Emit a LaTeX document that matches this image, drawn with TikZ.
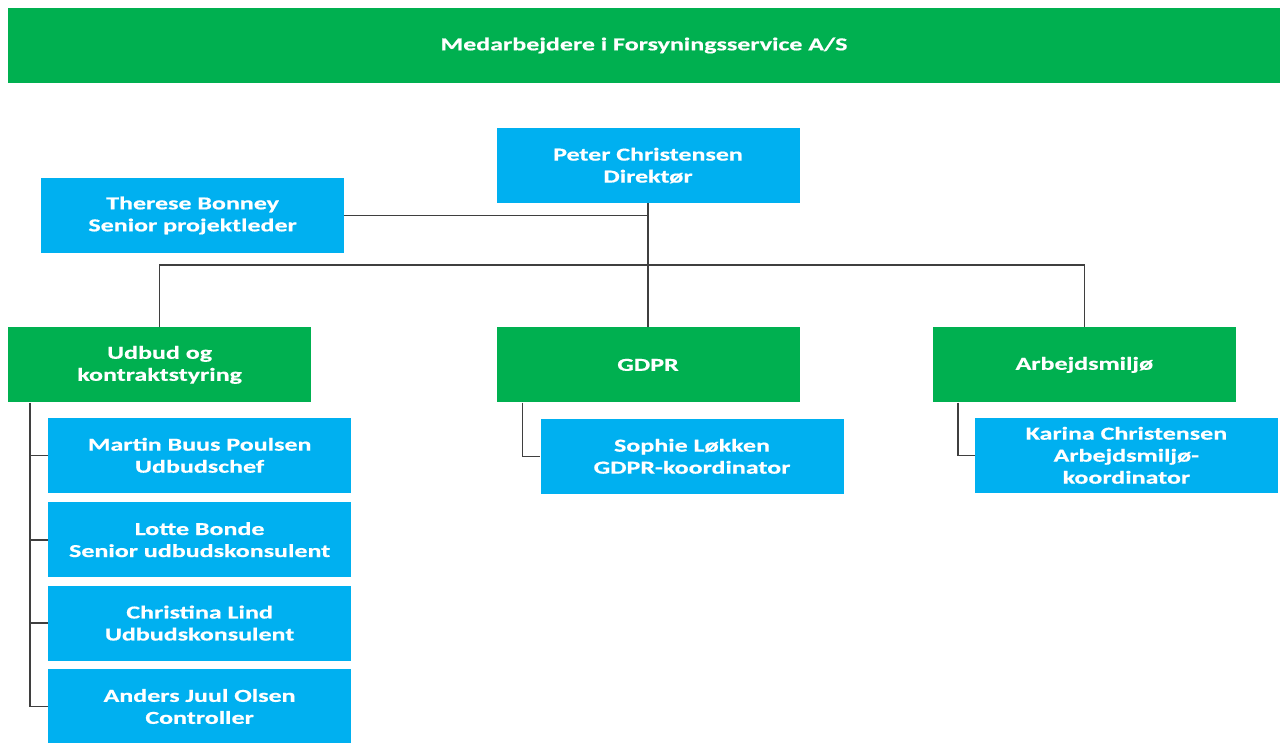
\documentclass[tikz,border=0pt]{standalone}
\usepackage{fontspec}
\usepackage{tikz}
\usetikzlibrary{positioning}
\newfontfamily\orgfont{Carlito}[FakeStretch=1.42,FakeBold=0.6]
\definecolor{orggreen}{HTML}{00B050}
\definecolor{orgblue}{HTML}{00B0F0}
\definecolor{orgline}{HTML}{3F3F3F}
\tikzset{
    unit/.style={
           rectangle,
           fill=orggreen,
           minimum width=303pt,
           minimum height=75pt,
           inner sep=4pt,
           text=white,
           align=center,
           font=\fontsize{18.3pt}{22pt}\selectfont\orgfont\bfseries,
           },
    person/.style={
           unit,
           fill=orgblue,
           },
    link/.style={
           draw=orgline,
           line width=1.6pt,
           },
}
\begin{document}
\begin{tikzpicture}[x=1pt,y=-1pt]
 \useasboundingbox[fill=white] (0,0) rectangle (1280,742);

 % banner across the top
 \node[unit, minimum width=1272pt] (TITLE) at (644,45.5)
  {Medarbejdere i Forsyningsservice A/S};

 % director and staff function
 \node[person] (PETER) at (648,165.5) {Peter Christensen\\Direktør};
 \node[person,
  left=152pt of PETER,	% to the left of the director
  yshift=-50pt] (THERESE)
  {Therese Bonney\\Senior projektleder};

 % the three units
 \node[unit, below=124pt of PETER] (GDPR) {GDPR};
 \node[unit, left=185pt of GDPR] (UDBUD) {Udbud og\\kontraktstyring};
 \node[unit, right=133pt of GDPR] (ARBMIL) {Arbejdsmiljø};

 % people in each unit
 \node[person, below right=15pt and 40pt of UDBUD.south west] (MARTIN)
  {Martin Buus Poulsen\\Udbudschef};
 \node[person, below=9pt of MARTIN] (LOTTE)
  {Lotte Bonde\\Senior udbudskonsulent};
 \node[person, below=8pt of LOTTE] (CHRISTINA)
  {Christina Lind\\Udbudskonsulent};
 \node[person, below=8pt of CHRISTINA] (ANDERS)
  {Anders Juul Olsen\\Controller};
 \node[person, below right=16pt and 44pt of GDPR.south west] (SOPHIE)
  {Sophie Løkken\\GDPR-koordinator};
 \node[person, below right=15pt and 42pt of ARBMIL.south west] (KARINA)
  {Karina Christensen\\Arbejdsmiljø-\\koordinator};

 % connectors
 \draw[link] (PETER.south) -- (GDPR.north);
 \draw[link] (THERESE.east) -- (THERESE.east -| PETER.south);
 \draw[link] (UDBUD.north) -- ++(0,-62) -| (ARBMIL.north);

 \coordinate (UB) at ([xshift=22pt]UDBUD.south west);
 \draw[link] (UB) |- (ANDERS.west);
 \foreach \p in {MARTIN,LOTTE,CHRISTINA}
  \draw[link] (UB |- \p.west) -- (\p.west);

 \draw[link] ([xshift=26pt]GDPR.south west) |- (SOPHIE.west);
 \draw[link] ([xshift=25pt]ARBMIL.south west) |- (KARINA.west);

\end{tikzpicture}
\end{document}
